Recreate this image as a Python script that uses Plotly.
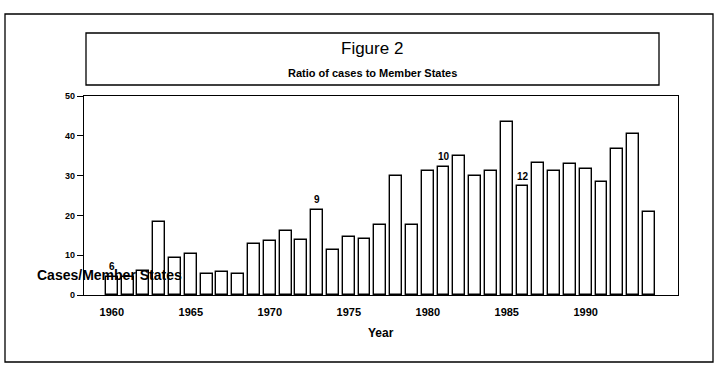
import plotly.graph_objects as go

years = list(range(1960, 1995))
ratio = [4.6, 4.6, 6.0, 18.3, 9.2, 10.2, 5.2, 5.9, 5.4, 12.7,
         13.6, 16.1, 13.8, 21.4, 11.3, 14.6, 14.1, 17.6, 29.9, 17.6,
         31.2, 32.2, 34.9, 29.9, 31.2, 43.4, 27.3, 33.2, 31.2, 32.9,
         31.6, 28.4, 36.7, 40.4, 20.8]

label_years = [1960, 1973, 1981, 1986]
label_texts = ["6", "9", "10", "12"]

x_ticks = [1960, 1965, 1970, 1975, 1980, 1985, 1990]
y_ticks = [0, 10, 20, 30, 40, 50]

FONT = "Liberation Sans, Arial, sans-serif"

fig = go.Figure()
fig.add_trace(go.Bar(
    x=years, y=ratio, width=0.75,
    marker=dict(color="white", line=dict(color="black", width=1.4)),
    showlegend=False, hoverinfo="x+y",
))

lab_vals = [ratio[years.index(y)] for y in label_years]
for yr, val, txt in zip(label_years, lab_vals, label_texts):
    fig.add_annotation(x=yr, y=val, text="<b>%s</b>" % txt, showarrow=False,
                       xanchor="center", yanchor="middle",
                       yshift=10, font=dict(family=FONT, size=10, color="black"))

L, R, T, B = 84, 40, 96, 72
W, H = 718, 367
pw, ph = W - L - R, H - T - B

def px(xp):
    return (xp - L) / pw

def py(yp):
    return (H - B - yp) / ph

# outer border
fig.add_shape(type="rect", xref="paper", yref="paper",
              x0=px(5), x1=px(713), y0=py(362), y1=py(14),
              line=dict(color="black", width=1.3), layer="below")
# title box
fig.add_shape(type="rect", xref="paper", yref="paper",
              x0=px(86), x1=px(659), y0=py(85), y1=py(33),
              line=dict(color="black", width=1.3))

def note(x, y, text, size):
    fig.add_annotation(xref="paper", yref="paper", x=x, y=y, text=text,
                       showarrow=False, xanchor="center", yanchor="middle",
                       font=dict(family=FONT, size=size, color="black"))

note(px(372), py(48), "Figure 2", 17)
note(px(372), py(73), "<b>Ratio of cases to Member States</b>", 11)
note(px(109), py(275), "<b>Cases/Member States</b>", 14)
note(0.5, py(333), "<b>Year</b>", 12)

fig.update_layout(
    width=W, height=H,
    margin=dict(l=L, r=R, t=T, b=B, autoexpand=False),
    paper_bgcolor="white", plot_bgcolor="white",
    font=dict(family=FONT, color="black"),
    xaxis=dict(range=[1958.24, 1995.84], tickvals=x_ticks,
               ticktext=["<b>%d</b>" % v for v in x_ticks],
               showgrid=False, zeroline=False, showline=True, linecolor="black",
               linewidth=1.3, mirror=True, ticks="", ticklabelstandoff=7,
               tickfont=dict(family=FONT, size=11, color="black")),
    yaxis=dict(range=[0, 50], tickvals=y_ticks,
               ticktext=["<b>%d</b>" % v for v in y_ticks],
               showgrid=False, zeroline=False, showline=True, linecolor="black",
               linewidth=1.3, mirror=True, ticks="outside", ticklen=6,
               tickcolor="black", tickwidth=1.3,
               tickfont=dict(family=FONT, size=9, color="black")),
    bargap=0,
)

fig.write_html("out.html", config={"displayModeBar": False},
               post_script="document.body.style.margin='0';document.body.style.padding='0';")
